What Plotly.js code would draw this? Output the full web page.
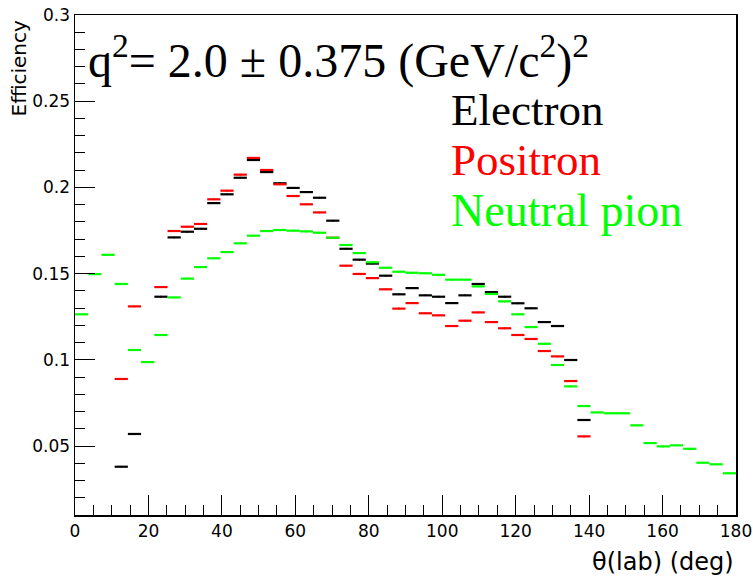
<!DOCTYPE html>
<html>
<head>
<meta charset="utf-8">
<script src="https://cdn.plot.ly/plotly-3.0.1.min.js"></script>
<style>html,body{margin:0;padding:0;background:#fff;}#chart{width:753px;height:577px;}</style>
</head>
<body>
<div id="chart"></div>
<script>
// Bin centres (deg), 3.6 deg wide bins
const theta = [1.8,5.4,9.0,12.6,16.2,19.8,23.4,27.0,30.6,34.2,37.8,41.4,45.0,48.6,52.2,55.8,59.4,63.0,66.6,70.2,
  73.8,77.4,81.0,84.6,88.2,91.8,95.4,99.0,102.6,106.2,109.8,113.4,117.0,120.6,124.2,127.8,131.4,135.0,138.6,142.2,
  145.8,149.4,153.0,156.6,160.2,163.8,167.4,171.0,174.6,178.2];
const halfBin = 1.8;

const electron = [null,null,null,0.038,0.057,null,0.1366,0.1710,0.1743,0.1760,0.1909,0.1960,0.2056,0.2159,0.2089,0.2024,0.1997,0.1973,0.1940,0.1807,
  0.1644,0.1581,0.1558,0.1488,0.1380,0.1416,0.1374,0.1366,0.1329,0.1374,0.1440,0.1393,0.1366,0.1328,0.1299,0.1219,0.1196,0.0999,0.0651,null,
  null,null,null,null,null,null,null,null,null,null];

const positron = [null,null,null,0.0889,0.131,null,0.1422,0.1747,0.1772,0.1788,0.1931,0.1981,0.2074,0.2171,0.2101,0.2018,0.1950,0.1902,0.1855,0.1708,
  0.1546,0.1498,0.1474,0.1409,0.1297,0.1329,0.1270,0.1258,0.1196,0.1227,0.1275,0.1219,0.1183,0.1144,0.1121,0.1051,0.1020,0.0877,0.0556,null,
  null,null,null,null,null,null,null,null,null,null];

const pion = [0.1264,0.1497,0.1609,0.1440,0.1057,0.0987,0.1144,0.1362,0.1471,0.1538,0.1589,0.1625,0.1676,0.1720,0.1747,0.1753,0.1749,0.1745,0.1737,0.1708,
  0.1666,0.1619,0.1566,0.1534,0.1511,0.1505,0.1502,0.1493,0.1465,0.1465,0.1426,0.1382,0.1339,0.1264,0.1190,0.1093,0.0970,0.0846,0.0732,0.0695,
  0.0690,0.0690,0.0620,0.0517,0.0498,0.0504,0.0484,0.0403,0.0394,0.0342];

const xTickVals = [0,20,40,60,80,100,120,140,160,180];
const yTickVals = [0.05,0.1,0.15,0.2,0.25,0.3];
const yTickText = ['0.05','0.1','0.15','0.2','0.25','0.3'];

function series(name, y, color) {
  return {
    type: 'scatter', mode: 'markers', name: name,
    x: theta, y: y,
    marker: {color: color, size: 2},
    error_x: {type: 'constant', value: halfBin, width: 0, thickness: 2.2, color: color},
    hoverinfo: 'x+y', showlegend: false
  };
}

const data = [
  series('Electron', electron, '#000000'),
  series('Positron', positron, '#ff0000'),
  series('Neutral pion', pion, '#00ff00')
];

const sans = 'DejaVu Sans, Liberation Sans, Arial, sans-serif';
const serif = 'Liberation Serif, Times New Roman, serif';
const axisFont = {family: sans, size: 17, color: '#000'};

const layout = {
  width: 753, height: 577,
  margin: {l: 75, r: 17, t: 15, b: 62},
  paper_bgcolor: '#fff', plot_bgcolor: '#fff',
  showlegend: false,
  xaxis: {
    range: [0, 180], tickvals: xTickVals, ticks: 'inside', ticklen: 20, tickwidth: 1, tickcolor: '#000',
    showline: true, linecolor: '#000', linewidth: 1.5, mirror: true, showgrid: false, zeroline: false,
    tickfont: axisFont,
    minor: {dtick: 5, ticks: 'inside', ticklen: 10, tickcolor: '#000', showgrid: false}
  },
  yaxis: {
    range: [0.01, 0.3], tickvals: yTickVals, ticktext: yTickText, ticks: 'inside', ticklen: 20, tickwidth: 1, tickcolor: '#000',
    showline: true, linecolor: '#000', linewidth: 1.5, mirror: true, showgrid: false, zeroline: false,
    tickfont: axisFont,
    minor: {dtick: 0.01, ticks: 'inside', ticklen: 10, tickcolor: '#000', showgrid: false}
  },
  annotations: [
    {xref: 'paper', yref: 'paper', x: 0.016, y: 0.914, xanchor: 'left', yanchor: 'middle', showarrow: false,
     text: 'q<sup>2</sup>= 2.0 ± 0.375 (GeV/c<sup>2</sup>)<sup>2</sup>',
     font: {family: serif, size: 48, color: '#000'}},
    {xref: 'paper', yref: 'paper', x: 0.566, y: 0.810, xanchor: 'left', yanchor: 'middle', showarrow: false,
     text: 'Electron', font: {family: serif, size: 45, color: '#000000'}},
    {xref: 'paper', yref: 'paper', x: 0.566, y: 0.710, xanchor: 'left', yanchor: 'middle', showarrow: false,
     text: 'Positron', font: {family: serif, size: 45, color: '#ff0000'}},
    {xref: 'paper', yref: 'paper', x: 0.566, y: 0.609, xanchor: 'left', yanchor: 'middle', showarrow: false,
     text: 'Neutral pion', font: {family: serif, size: 46, color: '#00ff00'}},
    {xref: 'paper', yref: 'paper', x: -0.084, y: 0.894, xanchor: 'center', yanchor: 'middle', showarrow: false,
     textangle: -90, text: 'Efficiency', font: {family: sans, size: 20, color: '#000'}},
    {xref: 'paper', yref: 'paper', x: 1.0, y: -0.094, xanchor: 'right', yanchor: 'middle', showarrow: false,
     text: 'θ(lab) (deg)', font: {family: sans, size: 24, color: '#000'}}
  ]
};

Plotly.newPlot('chart', data, layout, {displayModeBar: false, staticPlot: true});
</script>
</body>
</html>
